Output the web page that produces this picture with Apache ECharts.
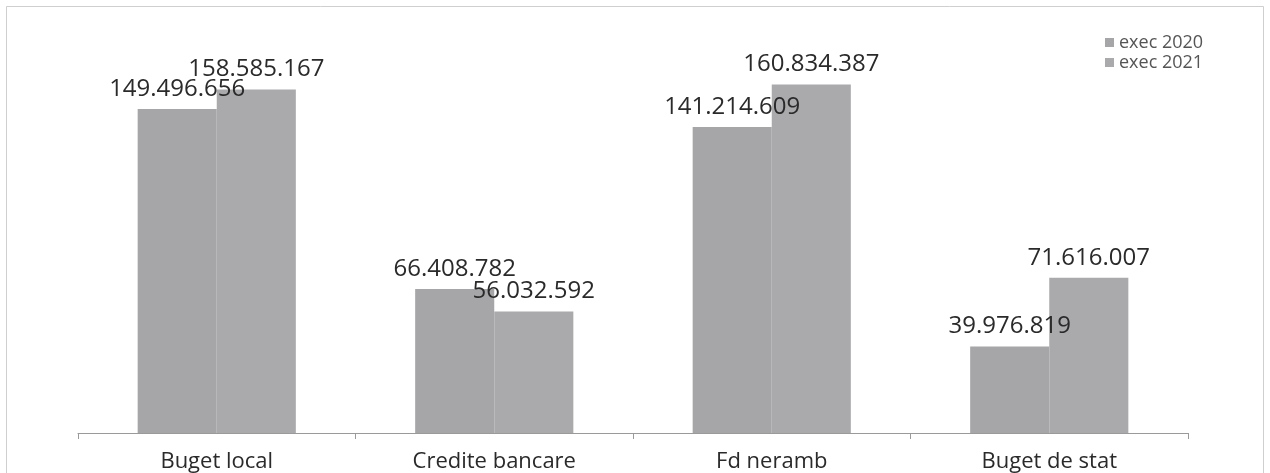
<!DOCTYPE html>
<html><head><meta charset="utf-8">
<script src="https://cdn.jsdelivr.net/npm/echarts@6/dist/echarts.min.js"></script>
<style>html,body{margin:0;padding:0;background:#fff}#c{width:1270px;height:473px}</style>
</head><body><div id="c"></div>
<script>
const categories = ['Buget local', 'Credite bancare', 'Fd neramb', 'Buget de stat'];
const seriesNames = ['exec 2020', 'exec 2021'];
const exec2020 = [149496656, 66408782, 141214609, 39976819];
const exec2021 = [158585167, 56032592, 160834387, 71616007];

function fmt(v) { return String(v).replace(/\B(?=(\d{3})+(?!\d))/g, '.'); }

const chart = echarts.init(document.getElementById('c'));
const labelCfg = {
  show: true, position: 'top', distance: 8,
  fontFamily: 'Open Sans', fontSize: 24, color: '#2a2a2a',
  formatter: p => fmt(p.value)
};
chart.setOption({
  animation: false,
  backgroundColor: '#fff',
  graphic: [{
    type: 'rect', shape: { x: 6.5, y: 6.5, width: 1257, height: 480 },
    style: { fill: 'none', stroke: '#cfcfcf', lineWidth: 1 }, silent: true
  }],
  legend: {
    orient: 'vertical', left: 1100, top: 28,
    itemWidth: 9, itemHeight: 9, itemGap: 1,
    icon: 'rect',
    textStyle: { fontFamily: 'Open Sans', fontSize: 18, color: '#555', lineHeight: 19 },
    data: seriesNames
  },
  grid: { left: 78, right: 82, top: 43, bottom: 40 },
  xAxis: {
    type: 'category', data: categories,
    axisLine: { lineStyle: { color: '#9a9a9a', width: 1 } },
    axisTick: { show: true, length: 6, lineStyle: { color: '#9a9a9a' } },
    axisLabel: { fontFamily: 'Open Sans', fontSize: 22, color: '#2a2a2a', margin: 18 }
  },
  yAxis: { type: 'value', min: 0, max: 180000000, show: false, splitLine: { show: false } },
  series: [
    { name: seriesNames[0], type: 'bar', data: exec2020, barGap: '0%', barCategoryGap: '43%',
      itemStyle: { color: '#a6a6a8' }, label: labelCfg },
    { name: seriesNames[1], type: 'bar', data: exec2021, barGap: '0%', barCategoryGap: '43%',
      itemStyle: { color: '#aaaaad' }, label: labelCfg }
  ]
});
</script></body></html>
